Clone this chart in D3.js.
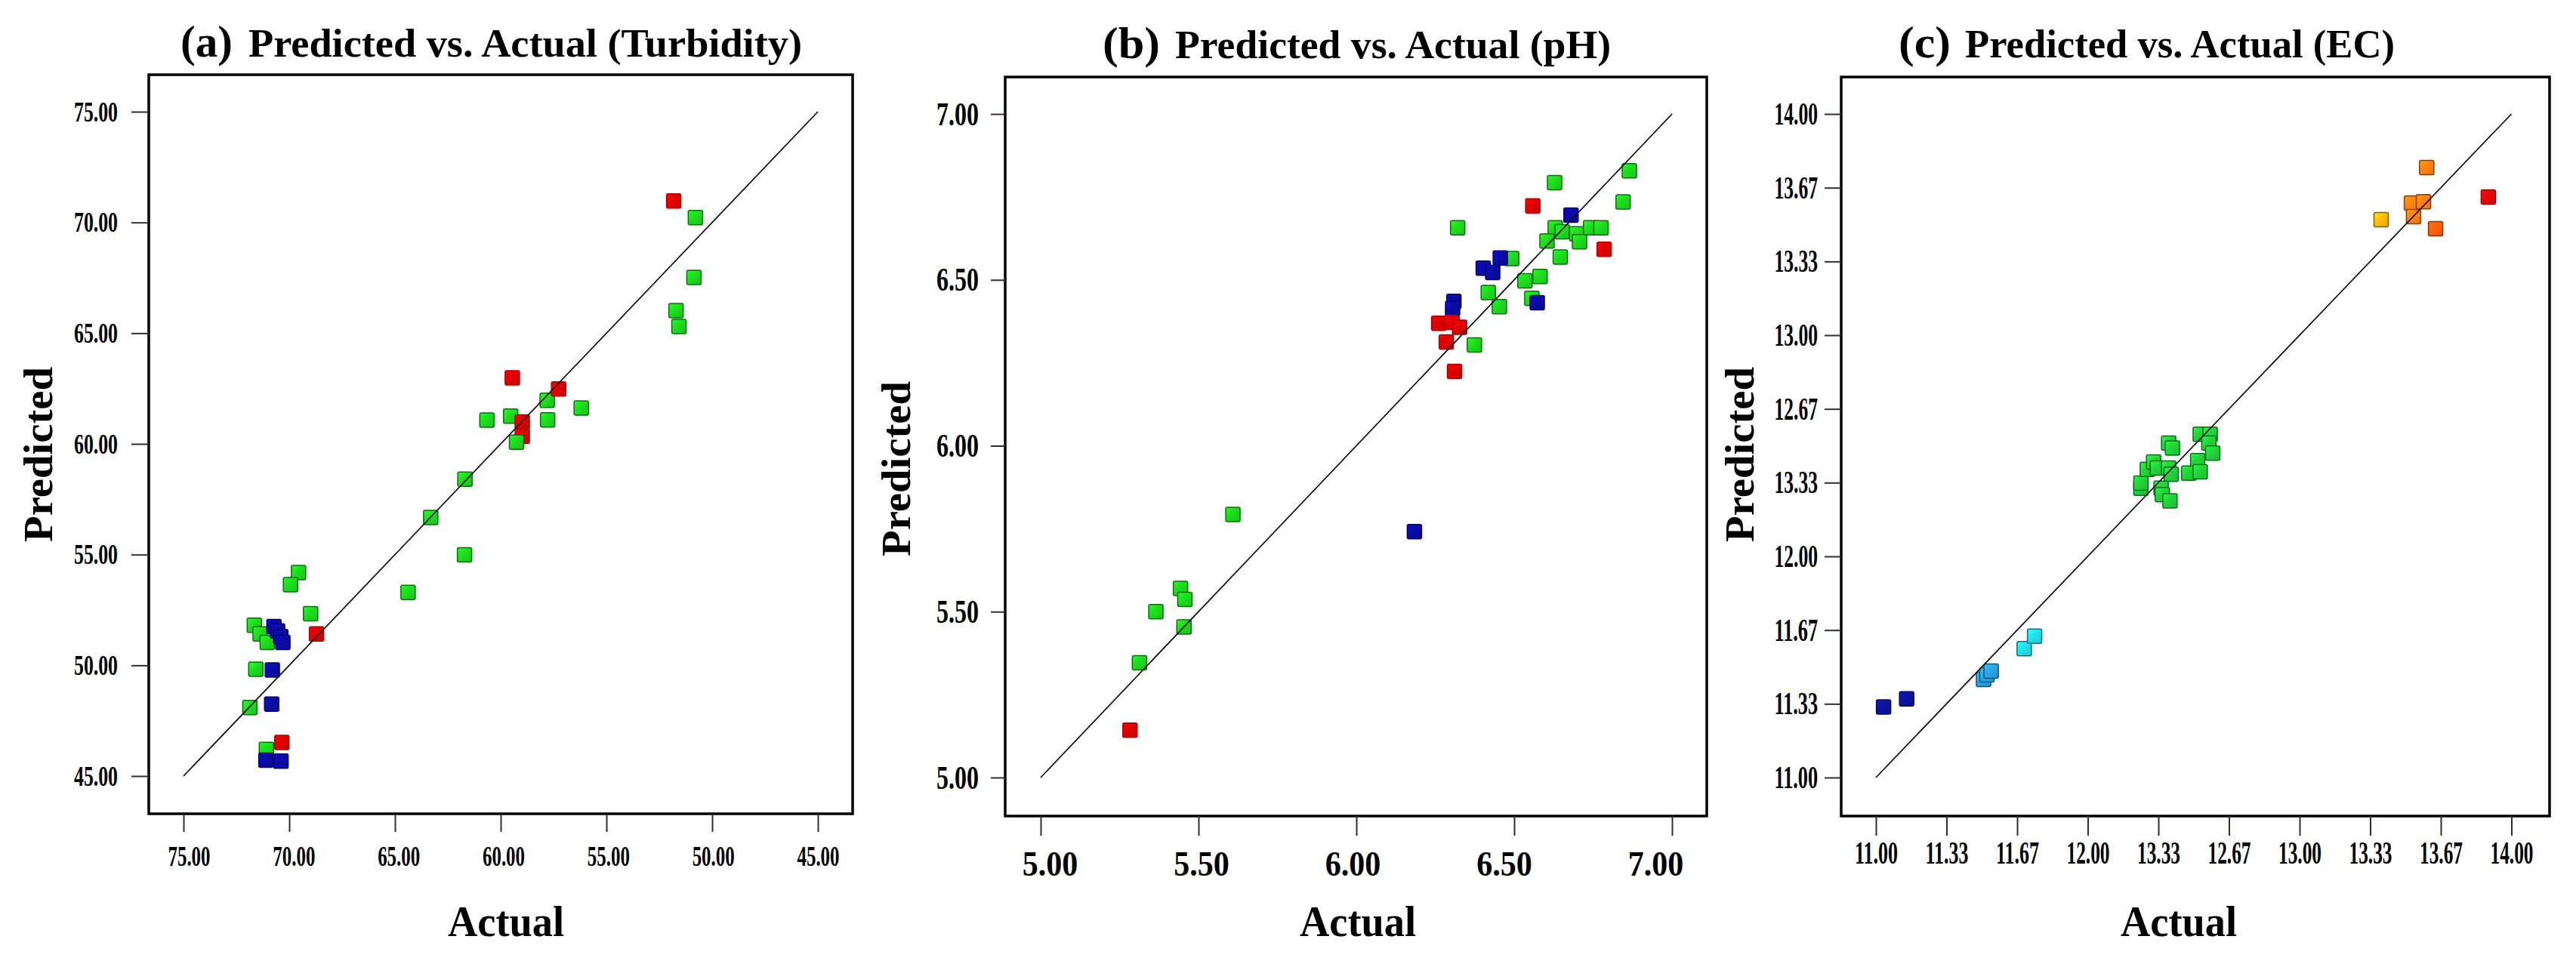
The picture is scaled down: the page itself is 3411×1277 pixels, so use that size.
<!DOCTYPE html>
<html>
  <head>
    <meta charset="utf-8">
    <title>Predicted vs. Actual</title>
    <script src="https://cdn.jsdelivr.net/npm/d3@7"></script>
    <style>
      body { margin: 0; background: #fff; }
      text { font-family: "Liberation Serif", "DejaVu Serif", serif; font-weight: bold; fill: #000; }
    </style>
  </head>

  <body>
    <svg id="chart" width="3411" height="1277"></svg>

    <script>
      // data: (a) turbidity
      turbidityActual = [69.56, 69.94, 68.99, 71.65, 71.38, 71.04, 71.58, 71.86, 71.08, 64.38, 63.31, 61.71,
        61.69, 60.65, 59.53, 57.80, 56.19, 57.78, 51.57, 51.71, 50.86, 50.79,
        68.71, 70.35, 59.45, 57.26, 58.98, 58.98, 51.82,
        59.25,
        70.72, 70.55, 70.40, 70.30, 70.80, 70.83, 71.10, 70.39];
      turbidityPredicted = [54.19, 53.64, 52.33, 51.81, 51.42, 51.03, 49.82, 48.09, 46.20, 53.29, 56.68, 54.99,
        58.41, 61.07, 61.25, 61.97, 61.62, 61.08, 65.30, 66.02, 67.52, 70.22,
        51.42, 46.52, 62.98, 62.48, 60.99, 60.34, 70.97,
        60.08,
        51.75, 51.55, 51.30, 51.03, 49.79, 48.25, 45.72, 45.67];
      turbidityGroup = ["g", "g", "g", "g", "g", "g", "g", "g", "g", "g", "g", "g",
        "g", "g", "g", "g", "g", "g", "g", "g", "g", "g",
        "r", "r", "r", "r", "r", "r", "r",
        "g",
        "b", "b", "b", "b", "b", "b", "b", "b"];

      // data: (b) pH
      phActual = [5.283, 5.313, 5.365, 5.443, 5.457, 5.454, 5.609, 6.184,
        6.865, 6.628, 6.559, 6.845, 6.321, 6.630, 6.652, 6.698, 6.742, 6.775, 6.604, 6.707, 6.785,
        6.646, 6.492, 6.534, 6.582, 6.418, 6.556, 6.453, 6.374,
        6.680, 6.456, 6.402, 6.432, 6.573, 6.309, 6.305,
        6.261, 6.303, 6.327, 6.285, 6.311];
      phPredicted = [5.143, 5.346, 5.500, 5.570, 5.537, 5.454, 5.793, 5.741,
        6.829, 6.793, 6.723, 6.735, 6.657, 6.657, 6.645, 6.639, 6.657, 6.657, 6.617, 6.615, 6.592,
        6.569, 6.564, 6.497, 6.510, 6.462, 6.444, 6.419, 6.304,
        6.695, 6.566, 6.535, 6.522, 6.431, 6.435, 6.414,
        6.369, 6.372, 6.357, 6.313, 6.224];
      phGroup = ["r", "g", "g", "g", "g", "g", "g", "b",
        "g", "g", "r", "g", "g", "g", "g", "g", "g", "g", "g", "g", "r",
        "g", "g", "g", "g", "g", "g", "g", "g",
        "b", "b", "b", "b", "b", "b", "b",
        "r", "r", "r", "r", "r"];

      // data: (c) EC
      ecActual = [11.036, 11.145, 11.508, 11.524, 11.544, 11.700, 11.749,
        12.251, 12.251, 12.281, 12.311, 12.329, 12.382, 12.400, 12.382, 12.394, 12.346, 12.352, 12.388,
        12.519, 12.477, 12.531, 12.531, 12.578, 12.572, 12.590,
        13.385, 13.528, 13.585, 13.538, 13.600, 13.642, 13.891];
      ecPredicted = [11.319, 11.356, 11.444, 11.464, 11.481, 11.583, 11.639,
        12.308, 12.331, 12.393, 12.427, 12.399, 12.512, 12.490, 12.399, 12.371, 12.308, 12.279, 12.251,
        12.433, 12.376, 12.382, 12.552, 12.552, 12.512, 12.467,
        13.522, 13.597, 13.603, 13.536, 13.758, 13.481, 13.625];
      ecGroup = ["navy", "navy", "sky", "sky", "sky", "cyan", "cyan",
        "g2", "g2", "g2", "g2", "g2", "g2", "g2", "g2", "g2", "g2", "g2", "g2",
        "g2", "g2", "g2", "g2", "g2", "g2", "g2",
        "yel", "org", "org", "org", "org", "ored", "red"];

      // tick values and labels (labels as printed in the figure)
      turbidityTicks = [75, 70, 65, 60, 55, 50, 45];
      turbidityTickLabels = ["75.00", "70.00", "65.00", "60.00", "55.00", "50.00", "45.00"];
      phTicks = [5, 5.5, 6, 6.5, 7];
      phTickLabels = ["5.00", "5.50", "6.00", "6.50", "7.00"];
      ecTicks = [11, 11 + 1 / 3, 11 + 2 / 3, 12, 12 + 1 / 3, 12 + 2 / 3, 13, 13 + 1 / 3, 13 + 2 / 3, 14];
      ecXTickLabels = ["11.00", "11.33", "11.67", "12.00", "13.33", "12.67", "13.00", "13.33", "13.67", "14.00"];
      ecYTickLabels = ["11.00", "11.33", "11.67", "12.00", "13.33", "12.67", "13.00", "13.33", "13.67", "14.00"];

      // marker colours
      colours = {
        g: ["#1edc1e", "#0d6e0d"],
        r: ["#e00000", "#b00000"],
        b: ["#0b0ba6", "#05056e"],
        g2: ["#22d43a", "#0e6e1c"],
        navy: ["#0c14a0", "#050a60"],
        sky: ["#2aa6e6", "#12507a"],
        cyan: ["#22e2ee", "#156a80"],
        yel: ["#ffc000", "#8a5a10"],
        org: ["#ff8410", "#8a3a08"],
        ored: ["#ff6208", "#903008"],
        red: ["#e80808", "#a00000"]
      };

      chart = d3.select("#chart");

      // gradients for the shaded squares
      defs = chart.append("defs");
      Object.keys(colours).forEach(function(k) {
        var base = d3.color(colours[k][0]);
        var grad = defs.append("linearGradient")
          .attr("id", "grad-" + k)
          .attr("x1", 0).attr("y1", 0).attr("x2", 1).attr("y2", 1);
        grad.append("stop").attr("offset", "0%").attr("stop-color", base.brighter(0.5));
        grad.append("stop").attr("offset", "45%").attr("stop-color", base);
        grad.append("stop").attr("offset", "100%").attr("stop-color", base.darker(0.35));
      });

      function drawPanel(p) {
        var g = chart.append("g");

        var x = d3.scaleLinear().domain(p.xDomain).range(p.xRange);
        var y = d3.scaleLinear().domain(p.yDomain).range(p.yRange);

        // points
        var pts = p.actual.map(function(d, i) {
          return {a: d, p: p.predicted[i], g: p.group[i]};
        });

        g.selectAll(".pt")
          .data(pts)
          .enter().append("rect")
            .attr("class", "pt")
            .attr("x", function(d) { return x(d.a) - 9.5; })
            .attr("y", function(d) { return y(d.p) - 9.5; })
            .attr("width", 19)
            .attr("height", 19)
            .attr("rx", 2)
            .attr("fill", function(d) { return "url(#grad-" + d.g + ")"; })
            .attr("stroke", function(d) { return colours[d.g][1]; })
            .attr("stroke-width", 1.5);

        // reference line
        g.append("line")
          .attr("x1", x(p.line[0][0])).attr("y1", y(p.line[0][1]))
          .attr("x2", x(p.line[1][0])).attr("y2", y(p.line[1][1]))
          .attr("stroke", "#000")
          .attr("stroke-width", 1.6);

        // frame
        g.append("rect")
          .attr("x", p.frame[0]).attr("y", p.frame[1])
          .attr("width", p.frame[2] - p.frame[0])
          .attr("height", p.frame[3] - p.frame[1])
          .attr("fill", "none")
          .attr("stroke", "#000")
          .attr("stroke-width", 3.5);

        // y axis
        var yAxis = g.append("g")
          .attr("transform", "translate(" + p.frame[0] + ",0)")
          .call(d3.axisLeft(y)
            .tickValues(p.yTicks)
            .tickFormat(function(d, i) { return p.yLabels[i]; })
            .tickSize(p.yTickLen)
            .tickSizeOuter(0));
        yAxis.select(".domain").remove();
        yAxis.selectAll(".tick line").attr("stroke", "#3a2a2a").attr("stroke-width", 2);
        yAxis.selectAll(".tick text")
          .attr("x", -p.yLabelGap)
          .attr("font-size", p.yFont)
          .attr("textLength", function(d, i) { return p.yLabelWidth * p.yLabels[i].length / 5; })
          .attr("lengthAdjust", "spacingAndGlyphs")
          .style("font-family", "'Liberation Serif', serif")
          .style("font-weight", "bold");

        // x axis
        var xAxis = g.append("g")
          .attr("transform", "translate(0," + p.frame[3] + ")")
          .call(d3.axisBottom(x)
            .tickValues(p.xTicks)
            .tickFormat(function(d, i) { return p.xLabels[i]; })
            .tickSize(p.xTickLen)
            .tickSizeOuter(0));
        xAxis.select(".domain").remove();
        xAxis.selectAll(".tick line").attr("stroke", "#3a2a2a").attr("stroke-width", 2);
        xAxis.selectAll(".tick text")
          .attr("y", p.xLabelBase)
          .attr("dy", 0)
          .attr("dx", function(d, i) { return p.xLabelShift[0] + (p.xLabelShift[1] - p.xLabelShift[0]) * i / (p.xTicks.length - 1); })
          .attr("font-size", p.xFont)
          .attr("textLength", function(d, i) { return p.xLabelWidth * p.xLabels[i].length / 5; })
          .attr("lengthAdjust", "spacingAndGlyphs")
          .style("font-family", "'Liberation Serif', serif")
          .style("font-weight", "bold");

        // title
        g.append("text")
          .attr("x", p.title.tagX).attr("y", p.title.base)
          .attr("font-size", 60)
          .attr("textLength", p.title.tagW)
          .attr("lengthAdjust", "spacingAndGlyphs")
          .text(p.title.tag);
        g.append("text")
          .attr("x", p.title.textX).attr("y", p.title.base)
          .attr("font-size", 52)
          .attr("textLength", p.title.textW)
          .attr("lengthAdjust", "spacingAndGlyphs")
          .text(p.title.text);

        // axis titles
        g.append("text")
          .attr("x", p.actualX).attr("y", 1240)
          .attr("text-anchor", "middle")
          .attr("font-size", 58)
          .attr("textLength", 154)
          .attr("lengthAdjust", "spacingAndGlyphs")
          .text("Actual");
        g.append("text")
          .attr("transform", "translate(" + p.predX + "," + p.predY + ") rotate(-90)")
          .attr("text-anchor", "middle")
          .attr("font-size", 54)
          .attr("textLength", 232)
          .attr("lengthAdjust", "spacingAndGlyphs")
          .text("Predicted");
      }

      drawPanel({
        actual: turbidityActual, predicted: turbidityPredicted, group: turbidityGroup,
        xDomain: [75, 45], xRange: [243, 1083],
        yDomain: [45, 75], yRange: [1028, 148],
        line: [[75, 45], [45, 75]],
        frame: [197, 99, 1129, 1078],
        xTicks: turbidityTicks, xLabels: turbidityTickLabels,
        yTicks: turbidityTicks, yLabels: turbidityTickLabels,
        yTickLen: 23, xTickLen: 24,
        yLabelGap: 41, yFont: 38, yLabelWidth: 58,
        xLabelBase: 69, xFont: 38, xLabelWidth: 56, xLabelShift: [7, 0],
        title: {tag: "(a)", tagX: 239, tagW: 69, text: "Predicted vs. Actual (Turbidity)", textX: 329, textW: 733, base: 75},
        actualX: 670, predX: 69, predY: 602
      });

      drawPanel({
        actual: phActual, predicted: phPredicted, group: phGroup,
        xDomain: [5, 7], xRange: [1378, 2214],
        yDomain: [5, 7], yRange: [1030, 151],
        line: [[5, 5], [7, 7]],
        frame: [1331, 102, 2260, 1081],
        xTicks: phTicks, xLabels: phTickLabels,
        yTicks: phTicks, yLabels: phTickLabels,
        yTickLen: 19, xTickLen: 26,
        yLabelGap: 35, yFont: 44, yLabelWidth: 70,
        xLabelBase: 79, xFont: 46, xLabelWidth: 92, xLabelShift: [12, -22],
        title: {tag: "(b)", tagX: 1460, tagW: 76, text: "Predicted vs. Actual (pH)", textX: 1556, textW: 577, base: 77},
        actualX: 1798, predX: 1205, predY: 621
      });

      drawPanel({
        actual: ecActual, predicted: ecPredicted, group: ecGroup,
        xDomain: [11, 14], xRange: [2484, 3325.5],
        yDomain: [11, 14], yRange: [1030, 151],
        line: [[11, 11], [14, 14]],
        frame: [2438, 102, 3376, 1081],
        xTicks: ecTicks, xLabels: ecXTickLabels,
        yTicks: ecTicks, yLabels: ecYTickLabels,
        yTickLen: 22, xTickLen: 26,
        yLabelGap: 31, yFont: 42, yLabelWidth: 57.5,
        xLabelBase: 63, xFont: 42, xLabelWidth: 57, xLabelShift: [0, 0],
        title: {tag: "(c)", tagX: 2514, tagW: 69, text: "Predicted vs. Actual (EC)", textX: 2602, textW: 569, base: 76},
        actualX: 2885, predX: 2322, predY: 602
      });
    </script>
  </body>
</html>
